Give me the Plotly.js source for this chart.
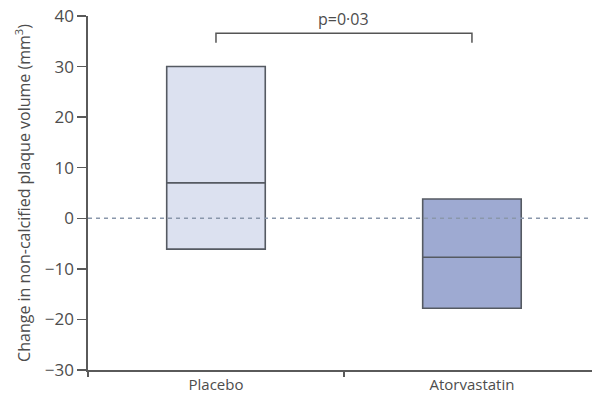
<!DOCTYPE html>
<html>
<head>
<meta charset="utf-8">
<script src="https://cdn.plot.ly/plotly-3.0.1.min.js"></script>
<style>html,body{margin:0;padding:0;background:#fff;}#chart{width:592px;height:399px;}</style>
</head>
<body>
<div id="chart"></div>
<script>
// Data
const categories = ['Placebo', 'Atorvastatin'];
const q1Values = [-6.1, -17.8];
const medianValues = [7.0, -7.7];
const q3Values = [30.0, 3.8];
const fillColors = ['#dce1f0', '#9eaad2'];
const yTickValues = [-30, -20, -10, 0, 10, 20, 30, 40];
const pLabel = 'p=0\u00b703';
const bracketTop = 36.6;
const bracketBottom = 34.7;
const pLabelY = 39.4;

const font = "'Open Sans', 'Noto Sans', sans-serif";
const axisColor = '#5a5a5a';
const textColor = '#4d4d4d';

const traces = categories.map((c, i) => ({
  type: 'box',
  x: [c],
  q1: [q1Values[i]],
  median: [medianValues[i]],
  q3: [q3Values[i]],
  lowerfence: [q1Values[i]],
  upperfence: [q3Values[i]],
  width: 0.385,
  whiskerwidth: 0,
  fillcolor: fillColors[i],
  line: {color: '#555a62', width: 1.6},
  boxpoints: false,
  hoverinfo: 'skip',
  showlegend: false
}));

traces.push({
  type: 'scatter',
  mode: 'lines',
  x: [categories[0], categories[0], categories[1], categories[1]],
  y: [bracketBottom, bracketTop, bracketTop, bracketBottom],
  line: {color: '#555555', width: 1.5},
  hoverinfo: 'skip',
  showlegend: false,
  cliponaxis: false
});

const layout = {
  width: 592,
  height: 399,
  margin: {l: 88, r: 0, t: 15.5, b: 29},
  paper_bgcolor: '#ffffff',
  plot_bgcolor: '#ffffff',
  font: {family: font, color: textColor},
  boxmode: 'overlay',
  xaxis: {
    type: 'category',
    categoryorder: 'array',
    categoryarray: categories,
    range: [-0.5, 1.469],
    tickson: 'boundaries',
    ticks: 'outside',
    ticklen: 5,
    tickwidth: 1.3,
    tickcolor: axisColor,
    showline: true,
    linecolor: axisColor,
    linewidth: 1.6,
    showgrid: false,
    zeroline: false,
    tickfont: {size: 15, color: textColor, family: font},
    fixedrange: true
  },
  yaxis: {
    range: [-30, 40],
    tickvals: yTickValues,
    ticktext: yTickValues.map(v => v < 0 ? '\u2212' + Math.abs(v) : String(v)),
    ticks: 'outside',
    ticklen: 9,
    tickwidth: 1.3,
    tickcolor: axisColor,
    showline: true,
    linecolor: axisColor,
    linewidth: 1.6,
    showgrid: false,
    zeroline: false,
    tickfont: {size: 17, color: textColor, family: font},
    title: {text: 'Change in non-calcified plaque volume (mm<sup>3</sup>)', font: {size: 16, color: textColor, family: font}, standoff: 10},
    fixedrange: true
  },
  shapes: [{
    type: 'line',
    xref: 'paper', yref: 'y',
    x0: 0, x1: 1, y0: 0, y1: 0,
    line: {color: '#8a97ab', width: 1.4, dash: '4px,4px'},
    layer: 'above'
  }],
  annotations: [{
    x: 0.5, y: pLabelY, xref: 'x', yref: 'y',
    text: pLabel,
    showarrow: false,
    font: {size: 16, color: textColor, family: font}
  }]
};

Plotly.newPlot('chart', traces, layout, {displayModeBar: false, staticPlot: true});
</script>
</body>
</html>
